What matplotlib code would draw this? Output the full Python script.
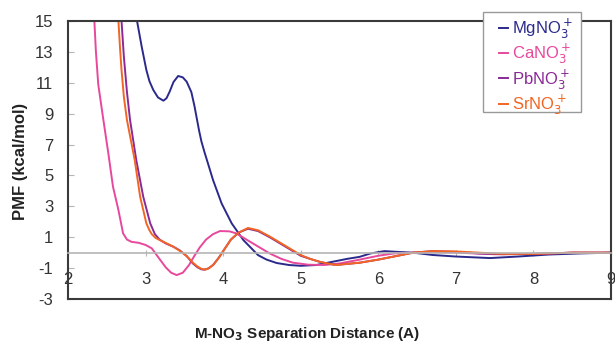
import matplotlib.pyplot as plt
from matplotlib.patches import Rectangle

plt.rcParams['font.family'] = ['Liberation Sans', 'DejaVu Sans']
plt.rcParams['axes.unicode_minus'] = False

# PMF curves (distance in A, PMF in kcal/mol)
mg_x = [2.85, 2.89, 2.95, 3.01, 3.05, 3.10, 3.16, 3.23, 3.27, 3.31, 3.36, 3.42,
        3.48, 3.53, 3.59, 3.63, 3.66, 3.69, 3.72, 3.76, 3.80, 3.87, 3.98, 4.11,
        4.26, 4.45, 4.56, 4.69, 4.85, 5.00, 5.20, 5.40, 5.60, 5.76, 5.90, 6.08,
        6.25, 6.45, 6.70, 7.00, 7.44, 7.80, 8.20, 8.60, 9.00]
mg_y = [17.0, 15.0, 13.34, 11.83, 11.1, 10.53, 10.05, 9.84, 10.0, 10.42, 11.05, 11.44,
        11.35, 11.07, 10.4, 9.5, 8.7, 7.9, 7.2, 6.5, 5.85, 4.7, 3.19, 1.9,
        0.82, -0.16, -0.45, -0.67, -0.8, -0.85, -0.8, -0.6, -0.4, -0.27, -0.05, 0.1,
        0.05, 0.0, -0.15, -0.25, -0.35, -0.25, -0.12, -0.05, 0.0]

ca_x = [2.30, 2.34, 2.36, 2.39, 2.45, 2.52, 2.58, 2.65, 2.71, 2.76, 2.82, 2.91,
        3.00, 3.08, 3.19, 3.26, 3.33, 3.40, 3.48, 3.56, 3.63, 3.70, 3.78, 3.87,
        3.96, 4.08, 4.17, 4.30, 4.45, 4.60, 4.75, 4.90, 5.10, 5.30, 5.50, 5.76,
        6.00, 6.20, 6.45, 6.70, 7.00, 7.50, 8.00, 8.50, 9.00]
ca_y = [17.5, 15.0, 13.0, 10.9, 8.8, 6.43, 4.27, 2.76, 1.25, 0.85, 0.7, 0.64,
        0.5, 0.28, -0.48, -0.95, -1.3, -1.45, -1.3, -0.8, -0.2, 0.35, 0.85, 1.2,
        1.4, 1.38, 1.25, 0.85, 0.4, -0.05, -0.4, -0.65, -0.78, -0.8, -0.7, -0.45,
        -0.2, -0.05, 0.0, 0.05, 0.0, -0.1, -0.08, 0.0, 0.0]

pb_x = [2.65, 2.69, 2.72, 2.76, 2.80, 2.88, 2.97, 3.06, 3.12, 3.18, 3.26, 3.36,
        3.44, 3.53, 3.61, 3.67, 3.72, 3.76, 3.81, 3.87, 3.94, 4.02, 4.10, 4.20,
        4.32, 4.45, 4.60, 4.80, 5.00, 5.12, 5.25, 5.45, 5.76, 6.00, 6.25, 6.45,
        6.70, 7.00, 7.30, 7.60, 8.00, 8.50, 9.00]
pb_y = [17.5, 15.0, 12.7, 10.4, 8.59, 6.0, 3.62, 1.9, 1.2, 0.85, 0.6, 0.38,
        0.15, -0.22, -0.7, -0.95, -1.08, -1.1, -1.02, -0.8, -0.35, 0.25, 0.85, 1.3,
        1.55, 1.4, 1.0, 0.4, -0.2, -0.4, -0.6, -0.8, -0.65, -0.45, -0.2, 0.0,
        0.1, 0.05, -0.05, -0.1, -0.08, 0.0, 0.0]

sr_x = [2.61, 2.65, 2.67, 2.69, 2.72, 2.76, 2.86, 2.93, 3.01, 3.05, 3.08, 3.13,
        3.19, 3.28, 3.36, 3.44, 3.53, 3.61, 3.67, 3.72, 3.77, 3.82, 3.88, 3.95,
        4.02, 4.10, 4.20, 4.32, 4.45, 4.60, 4.80, 5.00, 5.12, 5.25, 5.45, 5.76,
        6.00, 6.25, 6.45, 6.70, 7.00, 7.30, 7.60, 8.00, 8.50, 9.00]
sr_y = [17.5, 15.0, 13.3, 11.83, 10.1, 8.59, 6.0, 3.62, 1.9, 1.45, 1.2, 0.95,
        0.8, 0.58, 0.38, 0.12, -0.22, -0.65, -0.9, -1.05, -1.1, -1.0, -0.75, -0.3,
        0.25, 0.85, 1.3, 1.6, 1.45, 1.05, 0.45, -0.15, -0.4, -0.6, -0.8, -0.65,
        -0.45, -0.2, 0.0, 0.1, 0.08, 0.0, -0.08, -0.08, 0.0, 0.0]

labels = [r'MgNO$_3^+$', r'CaNO$_3^+$', r'PbNO$_3^+$', r'SrNO$_3^+$']
colors = ['#2b2a8c', '#e8489c', '#8a2a96', '#f26522']
x_ticks = [2, 3, 4, 5, 6, 7, 8, 9]
y_ticks = [-3, -1, 1, 3, 5, 7, 9, 11, 13, 15]

W, H = 615, 342
fig = plt.figure(figsize=(W / 100, H / 100), dpi=100)
ax = fig.add_axes([68 / W, 1 - 299 / H, 543 / W, 278 / H])

series = [(mg_x, mg_y), (ca_x, ca_y), (pb_x, pb_y), (sr_x, sr_y)]
for (xs, ys), lab, c in zip(series, labels, colors):
    ax.plot(xs, ys, color=c, lw=1.4, label=lab)

ax.set_xlim(2, 9)
ax.set_ylim(-3, 15)
ax.set_xticks(x_ticks)
ax.set_yticks(y_ticks)

# frame like the spreadsheet chart, horizontal axis crossing at 0
frame = '#3a3a3a'
for s in ['left', 'top', 'right']:
    ax.spines[s].set_color(frame)
    ax.spines[s].set_linewidth(1.5)
ax.spines['bottom'].set_position(('data', 0))
ax.spines['bottom'].set_color('#b5b5b5')
ax.spines['bottom'].set_linewidth(1.2)
ax.axhline(-3, color=frame, lw=1.5, clip_on=False, zorder=5)

ax.tick_params(axis='x', direction='inout', length=5, color='#b5b5b5',
               labelsize=12, pad=11.5, labelcolor='#333333')
ax.tick_params(axis='y', direction='in', length=4, color='#b5b5b5',
               labelsize=12, pad=10.5, labelcolor='#333333')

fig.text(20 / W, 1 - 161 / H, 'PMF (kcal/mol)', rotation=90,
         ha='center', va='center', fontsize=12, fontweight='bold',
         color='#222222')
fig.text(0.5, 1 - 334 / H, r'M-NO$_\mathbf{3}$ Separation Distance (A)',
         ha='center', va='center', fontsize=11, fontweight='bold',
         color='#222222')

# legend box sits over the top frame line
box = Rectangle((483 / W, 1 - 112 / H), 98 / W, 100 / H,
                transform=fig.transFigure, facecolor='white',
                edgecolor='#999999', lw=1.0, zorder=20)
fig.add_artist(box)
leg = fig.legend(loc='upper left', bbox_to_anchor=(499 / W, 1 - 17 / H),
                 bbox_transform=fig.transFigure, fontsize=12,
                 handlelength=0.55, handletextpad=0.25, labelspacing=0.05,
                 borderpad=0, borderaxespad=0, frameon=False)
for txt, c in zip(leg.get_texts(), colors):
    txt.set_color(c)
leg.set_zorder(30)

plt.savefig('out.png', dpi=100)
